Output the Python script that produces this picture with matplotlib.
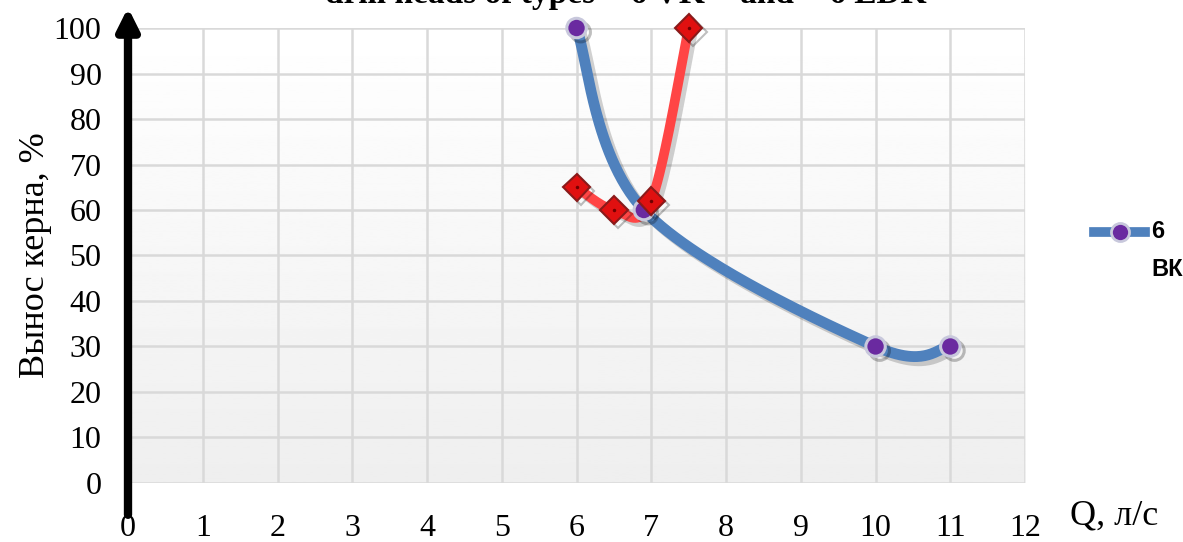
import numpy as np
import matplotlib.pyplot as plt
import matplotlib.patheffects as pe
from matplotlib.lines import Line2D

# core recovery vs flow rate for two drill head types
q_vk = [6, 6.9, 10, 11]
core_vk = [100, 60, 30, 30]
q_edk = [6, 6.5, 7.0, 7.5]
core_edk = [65, 60, 62, 100]

x_ticks = list(range(0, 13))
y_ticks = list(range(0, 101, 10))


def smooth(xs, ys, n=60):
    # Catmull-Rom style bezier, similar to spreadsheet "smoothed line"
    p = np.column_stack([xs, ys]).astype(float)
    p = np.vstack([p[0], p, p[-1]])
    out = []
    for i in range(1, len(p) - 2):
        p0, p1, p2, p3 = p[i - 1], p[i], p[i + 1], p[i + 2]
        c1 = p1 + (p2 - p0) / 6
        c2 = p2 - (p3 - p1) / 6
        t = np.linspace(0, 1, n)[:, None]
        seg = ((1 - t) ** 3) * p1 + 3 * ((1 - t) ** 2) * t * c1 + 3 * (1 - t) * t ** 2 * c2 + t ** 3 * p2
        out.append(seg)
    s = np.vstack(out)
    return s[:, 0], s[:, 1]


serif = 'Liberation Serif'
fig = plt.figure(figsize=(11.83, 5.42), dpi=100)
ax = fig.add_axes([0.1082, 0.1089, 0.7583, 0.8394])
ax.set_xlim(0, 12)
ax.set_ylim(0, 100)

# plot area gradient
grad = np.linspace(0.935, 1.0, 256)[:, None]
ax.imshow(grad, cmap='gray', vmin=0, vmax=1, aspect='auto',
          extent=[0, 12, 0, 100], origin='lower', zorder=0)

ax.set_xticks(x_ticks)
ax.set_yticks(y_ticks)
ax.grid(True, color='#d9d9d9', lw=1.8, zorder=1)
ax.tick_params(length=0, labelsize=23)
ax.tick_params(axis='x', pad=22)
ax.tick_params(axis='y', pad=19)
for lab in ax.get_xticklabels() + ax.get_yticklabels():
    lab.set_fontfamily(serif)
for sp in ax.spines.values():
    sp.set_visible(False)

line_fx = [pe.SimpleLineShadow(offset=(3, -3), shadow_color='black', alpha=0.18), pe.Normal()]
mark_fx = [pe.SimpleLineShadow(offset=(3, -3), shadow_color='black', alpha=0.25), pe.Normal()]

bx, by = smooth(q_vk, core_vk)
ax.plot(bx, by, color='#4f81bd', lw=7.8, solid_capstyle='round', zorder=3,
        path_effects=line_fx)
rx, ry = smooth(q_edk, core_edk)
ax.plot(rx, ry, color='#ff4545', lw=7, solid_capstyle='round', zorder=4,
        path_effects=line_fx)

ax.plot(q_vk, core_vk, ls='none', marker='o', ms=14, mfc='#6a2aa0', mec='#c8c8dc',
        mew=2.2, zorder=5, clip_on=False, path_effects=mark_fx)
ax.plot(q_edk, core_edk, ls='none', marker='D', ms=14, mfc='#e01010', mec='#8a1a1a',
        mew=1.5, zorder=6, clip_on=False, path_effects=mark_fx)
ax.plot(q_edk, core_edk, ls='none', marker='o', ms=2.5, mfc='#700000', mec='none',
        zorder=7, clip_on=False)

# vertical arrow axis
ax.annotate('', xy=(0, 1.045), xytext=(0, -0.07), xycoords='axes fraction',
            arrowprops=dict(arrowstyle='-|>', lw=6, color='black', mutation_scale=32,
                            shrinkA=0, shrinkB=0),
            annotation_clip=False, zorder=8)

fig.text(0.03, 0.53, 'Вынос керна, %', rotation=90, ha='center', va='center',
         fontsize=26, family=serif)
fig.text(0.942, 0.048, 'Q, л/с', ha='center', va='center', fontsize=26, family=serif)

# title, partly above the top edge
fig.text(0.537, 0.994, 'drill heads of types  "6 VK"  and  "6 EDK"', ha='center',
         va='baseline', fontsize=24, fontweight='bold', family=serif)

# legend
fig.add_artist(Line2D([0.925, 0.968], [0.572, 0.572], color='#4f81bd', lw=7,
                      transform=fig.transFigure))
fig.add_artist(Line2D([0.9465], [0.572], marker='o', ms=13, mfc='#6a2aa0',
                      mec='#c8c8dc', mew=2, transform=fig.transFigure))
fig.text(0.973, 0.572, '6', ha='left', va='center', fontsize=17, fontweight='bold',
         family='Liberation Sans')
fig.text(0.973, 0.503, 'ВК', ha='left', va='center', fontsize=17, fontweight='bold',
         family='Liberation Sans')

fig.savefig('out.png', dpi=100)
